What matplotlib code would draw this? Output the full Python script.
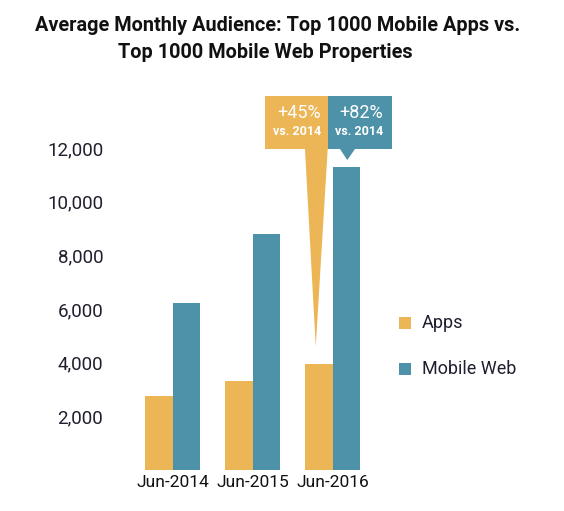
import matplotlib
matplotlib.use("Agg")
import matplotlib.pyplot as plt
from matplotlib.patches import Polygon, Rectangle
from matplotlib import font_manager as fm
import numpy as np

categories = ["Jun-2014", "Jun-2015", "Jun-2016"]
apps = [2750, 3300, 3950]
mobile_web = [6230, 8800, 11300]
series_names = ["Apps", "Mobile Web"]
yticks = [2000, 4000, 6000, 8000, 10000, 12000]
callout_app = ["+45%", "vs. 2014"]
callout_web = ["+82%", "vs. 2014"]

C_APP = "#ECB555"
C_WEB = "#4D92A8"

plt.rcParams['font.family'] = ['Roboto', 'DejaVu Sans']

fig = plt.figure(figsize=(5.64, 5.11), dpi=100)
W, H = 564, 511
x0px, zeropx = 172.7, 469.5
left_px, right_px = 120, 370
xl = (left_px - x0px) / 80
xr = (right_px - x0px) / 80
ytop = (zeropx - 94.8) / 321.2 * 12000
ax = fig.add_axes([left_px / W, (H - zeropx) / H, (right_px - left_px) / W, (zeropx - 94.8) / H])

x = np.arange(len(categories))
bw = 0.344
ax.bar(x - bw / 2, apps, bw, color=C_APP, label=series_names[0])
ax.bar(x + bw / 2, mobile_web, bw, color=C_WEB, label=series_names[1])
ax.set_xlim(xl, xr)
ax.set_ylim(0, ytop)
for s in ax.spines.values():
    s.set_visible(False)
ax.set_yticks(yticks)
ax.set_yticklabels([f"{v:,}" for v in yticks], fontsize=13.5, color="#1f1f2e")
ax.set_xticks(x)
ax.set_xticklabels(categories, fontsize=12.5, color="#111111")
ax.tick_params(axis='both', length=0)
ax.tick_params(axis='y', pad=12)
ax.tick_params(axis='x', pad=4)

# callouts
i = 2
box_bot, box_top = 11970, 13950
split = i - 0.0625
ob_l, wb_r = i - 0.846, i + 0.74
ax.add_patch(Rectangle((ob_l, box_bot), split - ob_l, box_top - box_bot, color=C_APP, clip_on=False, lw=0))
ax.add_patch(Rectangle((split, box_bot), wb_r - split, box_top - box_bot, color=C_WEB, clip_on=False, lw=0))
ax.add_patch(Polygon([(i - 0.347, box_bot + 10), (split, box_bot + 10), (i - bw / 2 - 0.04, apps[i] + 640)],
                     closed=True, color=C_APP, lw=0, clip_on=False))
ax.add_patch(Polygon([(i + 0.09, box_bot + 10), (i + 0.28, box_bot + 10), (i + bw / 2 + 0.01, mobile_web[i] + 260)],
                     closed=True, color=C_WEB, lw=0, clip_on=False))
for (big, small), xr_ in [(callout_app, split - 0.083), (callout_web, wb_r - 0.11)]:
    ax.text(xr_, 13320, big, ha='right', va='center', color='white', fontsize=13, clip_on=False)
    ax.text(xr_, 12610, small, ha='right', va='center', color='white', fontsize=9, fontweight='bold', clip_on=False)

# legend
for k, (name, col) in enumerate(zip(series_names, [C_APP, C_WEB])):
    cy = 323 + k * 45.5
    fig.patches.append(Rectangle((399 / W, (H - cy - 6) / H), 12 / W, 12 / H, color=col, transform=fig.transFigure, lw=0))
    fig.text(421.5 / W, (H - cy) / H, name, ha='left', va='center', fontsize=13, color="#1f1f2e")

# title: pick a bold face, then fit line 1 to the reference width (~487 px)
tfam = ['Roboto', 'DejaVu Sans']
t1 = fig.text(278 / W, (H - 25) / H, "Average Monthly Audience: Top 1000 Mobile Apps vs.",
              ha='center', va='center', fontsize=14, fontweight='bold', family=tfam, color="#111111")
t2 = fig.text(265.5 / W, (H - 52) / H, "Top 1000 Mobile Web Properties",
              ha='center', va='center', fontsize=14, fontweight='bold', family=tfam, color="#111111")
r = fig.canvas.get_renderer()
w1 = t1.get_window_extent(r).width
fs = 14 * 487 / w1
t1.set_fontsize(fs)
t2.set_fontsize(fs)

fig.savefig("out.png", dpi=100)
